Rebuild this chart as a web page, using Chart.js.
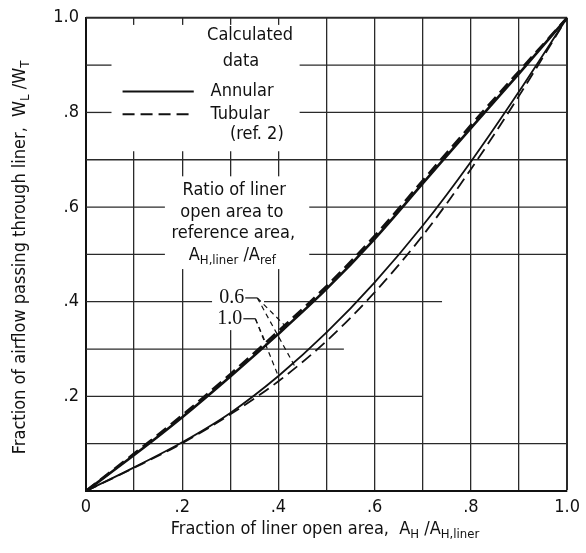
<!DOCTYPE html>
<html>
<head>
<meta charset="utf-8">
<script src="https://cdn.jsdelivr.net/npm/chart.js@4"></script>
<style>
  html, body { margin: 0; padding: 0; background: #fff; }
  #wrap { width: 586px; height: 553px; }
</style>
</head>
<body>
<div id="wrap"><canvas id="flowChart"></canvas></div>
<script>
// fraction of liner open area, A_H/A_H,liner
var openArea = [0, 0.1, 0.2, 0.3, 0.4, 0.5, 0.6, 0.7, 0.8, 0.9, 1.0]

// fraction of airflow passing through liner, W_L/W_T
var annularUpper = [0, 0.076, 0.156, 0.242, 0.332, 0.427, 0.533, 0.650, 0.767, 0.882, 1.0]
var tubularUpper = [0, 0.079, 0.160, 0.247, 0.338, 0.433, 0.539, 0.656, 0.773, 0.887, 1.0]
var annularLower = [0, 0.050, 0.103, 0.165, 0.243, 0.335, 0.441, 0.561, 0.696, 0.844, 1.0]
var tubularLower = [0, 0.049, 0.101, 0.162, 0.232, 0.317, 0.420, 0.540, 0.680, 0.835, 1.0]

// area ratio labels and where their leaders point
var ratioLabels = ['0.6', '1.0']
var leaderStarts = [[0.356, 0.408], [0.352, 0.364]]
var leaderEnds = [
    [[0.413, 0.350], [0.437, 0.258]],
    [[0.374, 0.312], [0.398, 0.247]]
]

var tickLabels = ['0', '.2', '.4', '.6', '.8', '1.0']

var sans = "'Liberation Sans Narrow', 'DejaVu Sans Condensed', sans-serif"
var ink = '#111'
var gridInk = '#2a2a2a'

function pts(ys) {
    return openArea.map(function (x, i) { return {x: x, y: ys[i]} })
}

// white paper behind the text blocks [x1, x2, y1, y2]
var masks = [
    [0.053, 0.444, 0.718, 0.985],
    [0.164, 0.464, 0.469, 0.665],
    [0.262, 0.360, 0.340, 0.469]
]
// horizontal grid lines and the stretches where they are printed
var hLines = [
    [0.1, [[0, 1]]],
    [0.2, [[0, 0.70]]],
    [0.3, [[0, 0.536]]],
    [0.4, [[0, 0.262], [0.37, 0.74]]],
    [0.5, [[0, 0.164], [0.464, 1]]],
    [0.6, [[0, 0.164], [0.464, 1]]],
    [0.7, [[0, 1]]],
    [0.8, [[0, 0.053], [0.444, 1]]],
    [0.9, [[0, 0.053], [0.444, 1]]],
    [1.0, [[0, 1]]]
]

// text with subscripts: parts = [[text, isSub], ...]
function drawParts(ctx, parts, x, y, align, size) {
    var subSize = Math.round(size * 0.72)
    var widths = parts.map(function (p) {
        ctx.font = (p[1] ? subSize : size) + 'px ' + sans
        return ctx.measureText(p[0]).width
    })
    var total = widths.reduce(function (a, b) { return a + b }, 0)
    var cx = align === 'center' ? x - total / 2 : (align === 'right' ? x - total : x)
    ctx.textAlign = 'left'
    ctx.textBaseline = 'middle'
    parts.forEach(function (p, i) {
        ctx.font = (p[1] ? subSize : size) + 'px ' + sans
        ctx.fillText(p[0], cx, p[1] ? y + size * 0.32 : y)
        cx += widths[i]
    })
}

var paperPlugin = {
    id: 'paper',
    beforeDatasetsDraw: function (chart) {
        var ctx = chart.ctx, xs = chart.scales.x, ys = chart.scales.y
        ctx.save()
        ctx.fillStyle = '#fff'
        masks.forEach(function (m) {
            var x1 = xs.getPixelForValue(m[0]), x2 = xs.getPixelForValue(m[1])
            var y1 = ys.getPixelForValue(m[3]), y2 = ys.getPixelForValue(m[2])
            ctx.fillRect(x1, y1, x2 - x1, y2 - y1)
        })
        ctx.strokeStyle = gridInk
        hLines.forEach(function (h) {
            var py = ys.getPixelForValue(h[0])
            ctx.lineWidth = h[0] === 1 ? 2 : 1.3
            h[1].forEach(function (seg) {
                ctx.beginPath()
                ctx.moveTo(xs.getPixelForValue(seg[0]), py)
                ctx.lineTo(xs.getPixelForValue(seg[1]), py)
                ctx.stroke()
            })
        })
        ctx.restore()
    },
    afterDatasetsDraw: function (chart) {
        var ctx = chart.ctx, xs = chart.scales.x, ys = chart.scales.y
        var px = function (v) { return xs.getPixelForValue(v) }
        var py = function (v) { return ys.getPixelForValue(v) }
        ctx.save()
        ctx.fillStyle = ink
        ctx.strokeStyle = ink

        // legend block
        drawParts(ctx, [['Calculated', false]], px(0.341), py(0.962), 'center', 18)
        drawParts(ctx, [['data', false]], px(0.322), py(0.907), 'center', 18)
        ctx.lineWidth = 2
        ctx.setLineDash([])
        ctx.beginPath(); ctx.moveTo(px(0.076), py(0.844)); ctx.lineTo(px(0.224), py(0.844)); ctx.stroke()
        ctx.setLineDash([12, 6])
        ctx.beginPath(); ctx.moveTo(px(0.076), py(0.796)); ctx.lineTo(px(0.224), py(0.796)); ctx.stroke()
        ctx.setLineDash([])
        drawParts(ctx, [[chart.data.datasets[0].label, false]], px(0.259), py(0.844), 'left', 18)
        drawParts(ctx, [[chart.data.datasets[1].label, false]], px(0.259), py(0.796), 'left', 18)
        drawParts(ctx, [['(ref. 2)', false]], px(0.355), py(0.754), 'center', 18)

        // ratio block
        drawParts(ctx, [['Ratio of liner', false]], px(0.308), py(0.636), 'center', 18)
        drawParts(ctx, [['open area to', false]], px(0.303), py(0.588), 'center', 18)
        drawParts(ctx, [['reference area,', false]], px(0.306), py(0.545), 'center', 18)
        drawParts(ctx, [['A', false], ['H,liner', true], [' /A', false], ['ref', true]],
            px(0.304), py(0.499), 'center', 18)

        // ratio labels with leaders
        ratioLabels.forEach(function (lab, i) {
            var s = leaderStarts[i]
            var tx = px(s[0]) - 12, ty = py(s[1])
            ctx.font = '20px "Liberation Serif", serif'
            ctx.textAlign = 'right'
            ctx.textBaseline = 'middle'
            ctx.fillText(lab, tx - 1, ty)
            ctx.lineWidth = 1.2
            ctx.setLineDash([])
            ctx.beginPath(); ctx.moveTo(tx, ty); ctx.lineTo(px(s[0]), py(s[1])); ctx.stroke()
            ctx.setLineDash([5, 4])
            leaderEnds[i].forEach(function (e) {
                ctx.beginPath(); ctx.moveTo(px(s[0]), py(s[1])); ctx.lineTo(px(e[0]), py(e[1])); ctx.stroke()
            })
        })
        ctx.restore()
    },
    afterDraw: function (chart) {
        var ctx = chart.ctx, a = chart.chartArea
        ctx.save()
        ctx.fillStyle = ink
        drawParts(ctx, [['Fraction of liner open area,  A', false], ['H', true], [' /A', false], ['H,liner', true]],
            325, 529, 'center', 18)
        ctx.translate(20, (a.top + a.bottom) / 2 + 3)
        ctx.rotate(-Math.PI / 2)
        drawParts(ctx, [['Fraction of airflow passing through liner,  W', false], ['L', true], [' /W', false], ['T', true]],
            0, 0, 'center', 18)
        ctx.restore()
    }
}

function tickText(v) {
    var k = Math.round(v * 10)
    return k % 2 === 0 ? tickLabels[k / 2] : ''
}

Chart.defaults.font.family = sans
Chart.defaults.font.size = 18
Chart.defaults.color = ink

var ctx = document.getElementById('flowChart').getContext('2d')
var chart = new Chart(ctx, {
    type: 'line',
    data: {
        datasets: [{
            label: 'Annular',
            data: pts(annularUpper),
            borderColor: ink,
            borderWidth: 2.6,
            pointRadius: 0,
            cubicInterpolationMode: 'monotone'
        }, {
            label: 'Tubular',
            data: pts(tubularUpper),
            borderColor: ink,
            borderWidth: 2.6,
            borderDash: [12, 6],
            pointRadius: 0,
            cubicInterpolationMode: 'monotone'
        }, {
            label: 'Annular',
            data: pts(annularLower),
            borderColor: ink,
            borderWidth: 1.8,
            pointRadius: 0,
            cubicInterpolationMode: 'monotone'
        }, {
            label: 'Tubular',
            data: pts(tubularLower),
            borderColor: ink,
            borderWidth: 1.8,
            borderDash: [12, 6],
            pointRadius: 0,
            cubicInterpolationMode: 'monotone'
        }]
    },
    options: {
        responsive: true,
        maintainAspectRatio: false,
        animation: false,
        layout: {padding: {top: 16, right: 13, left: 0, bottom: 0}},
        plugins: {legend: {display: false}, tooltip: {enabled: false}},
        scales: {
            x: {
                type: 'linear', min: 0, max: 1,
                afterFit: function (s) { s.height = 62 },
                grid: {
                    color: gridInk, drawTicks: false,
                    lineWidth: function (c) { return c.tick && c.tick.value === 1 ? 2 : 1.3 }
                },
                border: {color: ink, width: 2},
                ticks: {stepSize: 0.1, padding: 6, maxRotation: 0, autoSkip: false, callback: tickText}
            },
            y: {
                type: 'linear', min: 0, max: 1,
                afterFit: function (s) { s.width = 86 },
                grid: {color: 'rgba(0,0,0,0)', drawTicks: false},
                border: {color: ink, width: 2},
                ticks: {
                    stepSize: 0.1, padding: 7, autoSkip: false,
                    callback: function (v) { return v === 0 ? '' : tickText(v) }
                }
            }
        }
    },
    plugins: [paperPlugin]
})
</script>
</body>
</html>
